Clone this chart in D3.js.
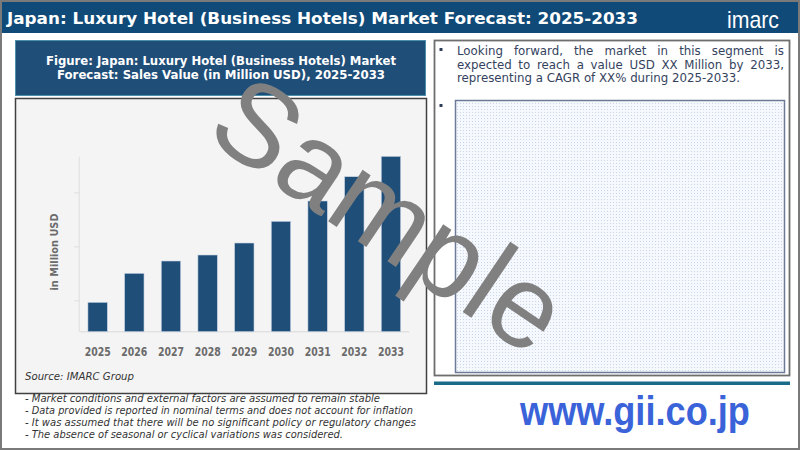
<!DOCTYPE html>
<html><head><meta charset="utf-8">
<script src="https://cdn.jsdelivr.net/npm/d3@7"></script>
<style>
html,body{margin:0;padding:0;background:#fff;}
svg{display:block;}
</style></head>
<body>
<svg id="c" width="800" height="450"></svg>
<script>
// ---- data ----
const years = ["2025","2026","2027","2028","2029","2030","2031","2032","2033"];
const salesValues = [29.4, 58.4, 70.7, 76.7, 88.7, 110.4, 130.7, 155.0, 175.4];
const yTickValues = [31.4, 85.4, 139.4];
const pageTitle = "Japan: Luxury Hotel (Business Hotels) Market Forecast: 2025-2033";
const figureTitle = ["Figure: Japan: Luxury Hotel (Business Hotels) Market", "Forecast: Sales Value (in Million USD), 2025-2033"];
const yAxisLabel = "in Million USD";
const sourceText = "Source: IMARC Group";
const notes = [
  "- Market conditions and external factors are assumed to remain stable",
  "- Data provided is reported in nominal terms and does not account for inflation",
  "- It was assumed that there will be no significant policy or regulatory changes",
  "- The absence of seasonal or cyclical variations was considered."
];
const noteWidths = [355, 388, 391, 318];
const bulletLines = [
  "Looking forward, the market in this segment is",
  "expected to reach a value USD XX Million by 2033,",
  "representing a CAGR of XX% during 2025-2033."
];

const svg = d3.select("#c");
const defs = svg.append("defs");
const pat = defs.append("pattern").attr("id","dots").attr("width",3).attr("height",3).attr("patternUnits","userSpaceOnUse");
pat.append("rect").attr("width",3).attr("height",3).attr("fill","#f5f8fd");
pat.append("rect").attr("x",1).attr("y",1).attr("width",1).attr("height",1).attr("fill","#c9d5ea");

svg.append("rect").attr("x",0).attr("y",0).attr("width",800).attr("height",450).attr("fill","#fff");

// header
svg.append("rect").attr("x",0).attr("y",0).attr("width",800).attr("height",33).attr("fill","#0f4a78");
svg.append("text").attr("x",7).attr("y",24).text(pageTitle)
  .attr("fill","#fff").attr("font-family","'DejaVu Sans Condensed','DejaVu Sans',sans-serif")
  .style("font-stretch","condensed").attr("font-weight","bold").attr("font-size",16.5)
  .attr("textLength",631).attr("lengthAdjust","spacingAndGlyphs");
svg.append("text").attr("x",727).attr("y",27.5).text("imarc")
  .attr("fill","#fff").attr("font-family","'Liberation Sans',Arial,sans-serif").attr("font-size",24)
  .attr("textLength",52).attr("lengthAdjust","spacingAndGlyphs");

svg.append("rect").attr("x",1).attr("y",1).attr("width",798).attr("height",448)
  .attr("fill","none").attr("stroke","#7a7a7a").attr("stroke-width",2);

// figure title box
svg.append("rect").attr("x",15.5).attr("y",40.5).attr("width",410).attr("height",55)
  .attr("fill","#1f4e79").attr("stroke","#4a90a8").attr("stroke-width",1);
svg.append("text").attr("x",221).attr("y",65).text(figureTitle[0])
  .attr("text-anchor","middle").attr("fill","#fff").attr("font-family","'DejaVu Sans',Verdana,sans-serif")
  .attr("font-weight","bold").attr("font-size",11.5).attr("textLength",350).attr("lengthAdjust","spacingAndGlyphs");
svg.append("text").attr("x",221).attr("y",79).text(figureTitle[1])
  .attr("text-anchor","middle").attr("fill","#fff").attr("font-family","'DejaVu Sans',Verdana,sans-serif")
  .attr("font-weight","bold").attr("font-size",11.5).attr("textLength",328).attr("lengthAdjust","spacingAndGlyphs");

// chart box
svg.append("rect").attr("x",15.5).attr("y",98.5).attr("width",411).attr("height",295)
  .attr("fill","#f4f4f4").attr("stroke","#404040").attr("stroke-width",1.5);

// scales
const x = d3.scaleBand().domain(years).range([79.3, 409.3]).paddingInner(0.47).paddingOuter(0.235);
const y = d3.scaleLinear().domain([0, 175]).range([331.7, 156.7]);

svg.append("line").attr("x1",79.3).attr("x2",79.3).attr("y1",y(175)).attr("y2",y(0))
  .attr("stroke","#e2e2e2").attr("stroke-width",1.2);
svg.append("line").attr("x1",79.3).attr("x2",409.3).attr("y1",y(0)).attr("y2",y(0))
  .attr("stroke","#e2e2e2").attr("stroke-width",1.5);
const yAxis = d3.axisLeft(y).tickValues(yTickValues).tickSize(5).tickFormat("");
const gy = svg.append("g").attr("transform","translate(79.3,0)").call(yAxis);
gy.select(".domain").remove();
gy.selectAll(".tick line").attr("stroke","#e2e2e2").attr("stroke-width",1.2);

// bars
svg.append("g").selectAll("rect").data(years).join("rect")
  .attr("x", d => x(d)).attr("width", x.bandwidth())
  .attr("y", (d,i) => y(salesValues[i])).attr("height", (d,i) => y(0) - y(salesValues[i]))
  .attr("fill","#1f4e79").attr("stroke","#c9d6e6").attr("stroke-width",0.6);

// x axis labels
const xAxis = d3.axisBottom(x).tickSize(0).tickPadding(0);
const gx = svg.append("g").attr("transform",`translate(0,${y(0)})`).call(xAxis);
gx.select(".domain").remove();
gx.selectAll(".tick text").attr("y",16.5).attr("fill","#6b6b6b")
  .attr("font-family","'DejaVu Sans',Verdana,sans-serif").attr("font-weight","bold").attr("font-size",11.5)
  .attr("textLength",26).attr("lengthAdjust","spacingAndGlyphs");

// y label
svg.append("text").attr("transform","translate(58,252) rotate(-90)").text(yAxisLabel)
  .attr("text-anchor","middle").attr("fill","#6b6b6b").attr("font-family","'DejaVu Sans',Verdana,sans-serif")
  .attr("font-weight","bold").attr("font-size",10).attr("textLength",77).attr("lengthAdjust","spacingAndGlyphs");

// source
svg.append("text").attr("x",25).attr("y",380).text(sourceText)
  .attr("fill","#333").attr("font-family","'DejaVu Sans',Verdana,sans-serif").attr("font-style","italic")
  .attr("font-size",10.5).attr("textLength",109).attr("lengthAdjust","spacingAndGlyphs");

// notes
notes.forEach((t,i) => {
  svg.append("text").attr("x",25).attr("y",401.5 + i*12.2).text(t)
    .attr("fill","#333").attr("font-family","'DejaVu Sans',Verdana,sans-serif").attr("font-style","italic")
    .attr("font-size",10.5).attr("textLength",noteWidths[i]).attr("lengthAdjust","spacingAndGlyphs");
});

// right panel
svg.append("rect").attr("x",434.5).attr("y",40.5).attr("width",355).attr("height",335)
  .attr("fill","#fff").attr("stroke","#6e6e6e").attr("stroke-width",1.8);
svg.append("rect").attr("x",439.5).attr("y",48).attr("width",3).attr("height",3).attr("fill","#2e3c58");
svg.append("rect").attr("x",439.5).attr("y",104).attr("width",3).attr("height",3).attr("fill","#2e3c58");

const textFont = "'DejaVu Sans',Verdana,sans-serif";
const lineX0 = 457, lineX1 = 784;
bulletLines.forEach((line,i) => {
  const yy = 55 + i*13.6;
  const words = line.split(" ");
  const justify = i < bulletLines.length - 1;
  const g = svg.append("g");
  const nodes = words.map(w => g.append("text").text(w).attr("y",yy)
    .attr("fill","#34425e").attr("font-family",textFont).attr("font-size",11.8));
  const widths = nodes.map(n => n.node().getComputedTextLength());
  const sum = d3.sum(widths);
  let gap = justify ? (lineX1 - lineX0 - sum) / (words.length - 1) : 11.8 * 0.318;
  let cx = lineX0;
  if (!justify) {
    const total = sum + gap*(words.length-1);
    const k = 283/total;
    nodes.forEach((n,j)=>{ n.attr("x",cx).attr("textLength",widths[j]*k).attr("lengthAdjust","spacingAndGlyphs"); cx += widths[j]*k + gap*k; });
  } else {
    nodes.forEach((n,j)=>{ n.attr("x",cx); cx += widths[j] + gap; });
  }
});

svg.append("rect").attr("x",455.5).attr("y",100.5).attr("width",329).attr("height",272)
  .attr("fill","url(#dots)").attr("stroke","#6d7b99").attr("stroke-width",1.5);

// teal line
svg.append("rect").attr("x",434).attr("y",381.5).attr("width",356).attr("height",3.5).attr("fill","#1a6b87");

// url
svg.append("text").attr("x",520).attr("y",425).text("www.gii.co.jp")
  .attr("fill","#3a63d9").attr("font-family","'Liberation Sans',Arial,sans-serif").attr("font-weight","bold")
  .attr("font-size",40).attr("textLength",230).attr("lengthAdjust","spacingAndGlyphs");

// watermark
svg.append("text").attr("transform","translate(390,214) rotate(34)").text("Sample")
  .attr("text-anchor","middle").attr("dominant-baseline","central")
  .attr("fill","#808080").attr("font-family","'Liberation Sans',Arial,sans-serif").attr("font-size",117);
</script>
</body></html>
